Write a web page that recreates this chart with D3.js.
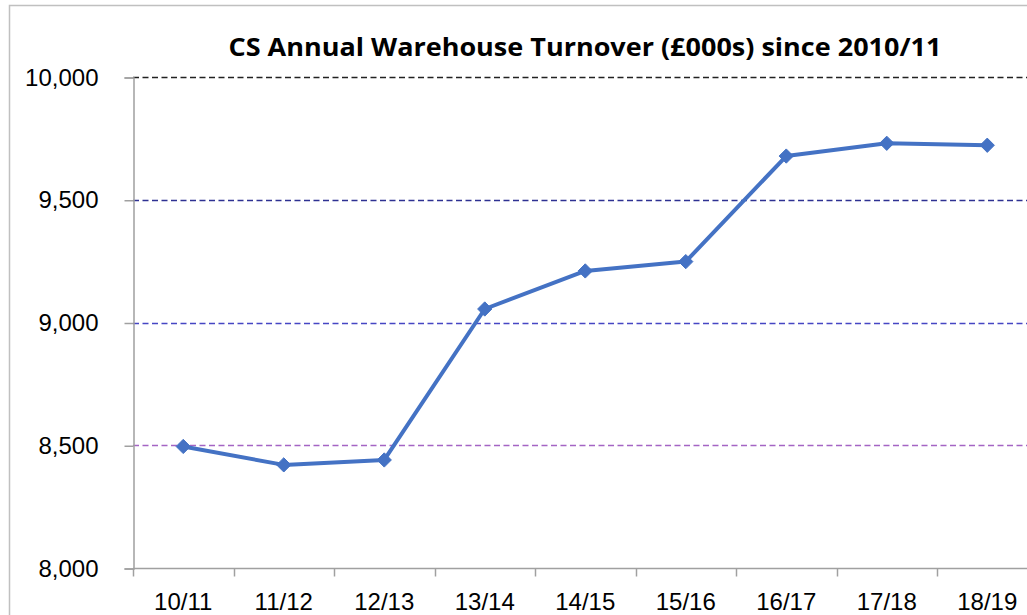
<!DOCTYPE html>
<html>
<head>
<meta charset="utf-8">
<script src="https://cdn.jsdelivr.net/npm/d3@7"></script>
<style>
  body { margin: 0; background: #fff; }
  svg { display: block; }
  .lbl { font-family: "Liberation Sans", Arial, sans-serif; }
  .ttl { font-family: "Open Sans", Lato, sans-serif; font-weight: 700; }
</style>
</head>
<body>
<div id="chart"></div>
<script>
// Data
const years = ["10/11", "11/12", "12/13", "13/14", "14/15", "15/16", "16/17", "17/18", "18/19"];
const turnover = [8495, 8420, 8440, 9055, 9210, 9248, 9678, 9730, 9722];
const yTicks = [8000, 8500, 9000, 9500, 10000];
const gridColours = ["none", "#a464c4", "#4646c4", "#2e3192", "#222222"];

const W = 1027, H = 615;
const margin = { top: 77, left: 133, bottom: 47 };
const plotRight = 1037.5;

const svg = d3.select("#chart").append("svg")
    .attr("width", W)
    .attr("height", H);

// chart area border (cut off on the right and bottom like the original)
svg.append("rect")
    .attr("x", 9.5).attr("y", 5.5)
    .attr("width", 1200).attr("height", 800)
    .attr("fill", "#fff")
    .attr("stroke", "#c0c0c0")
    .attr("stroke-width", 1.5);

const x = d3.scaleBand()
    .domain(years)
    .range([margin.left, plotRight])
    .padding(0);

const y = d3.scaleLinear()
    .domain([8000, 10000])
    .range([H - margin.bottom, margin.top]);

// dashed gridlines, each with its own colour
svg.append("g")
  .selectAll("line")
  .data(yTicks.slice(1))
  .join("line")
    .attr("x1", margin.left)
    .attr("x2", W)
    .attr("y1", d => Math.round(y(d)) + 0.5)
    .attr("y2", d => Math.round(y(d)) + 0.5)
    .attr("stroke", (d, i) => gridColours[i + 1])
    .attr("stroke-width", 1.3)
    .attr("stroke-dasharray", "6,3.5");

// Y axis
const yAxis = svg.append("g")
    .attr("transform", `translate(${margin.left + 0.5},0.5)`)
    .call(d3.axisLeft(y).tickValues(yTicks).tickSize(9).tickPadding(26).tickFormat(d3.format(",")));
yAxis.attr("font-family", null).attr("font-size", null);
yAxis.select(".domain").attr("stroke", "#a0a0a0").attr("stroke-width", 1.5);
yAxis.selectAll(".tick line").attr("stroke", "#a0a0a0").attr("stroke-width", 1.5);
yAxis.selectAll("text")
    .attr("class", "lbl")
    .style("font-size", "24px")
    .attr("fill", "#000");

// X axis: ticks sit on band boundaries
const xAxis = svg.append("g")
    .attr("transform", `translate(0,${Math.round(y(8000)) + 0.5})`);
xAxis.append("line")
    .attr("x1", margin.left).attr("x2", W)
    .attr("stroke", "#a0a0a0").attr("stroke-width", 1.5);
xAxis.selectAll(".tk")
  .data(years)
  .join("line")
    .attr("class", "tk")
    .attr("x1", d => Math.round(x(d)) + 0.5)
    .attr("x2", d => Math.round(x(d)) + 0.5)
    .attr("y1", 0).attr("y2", 8)
    .attr("stroke", "#a0a0a0").attr("stroke-width", 1.5);
xAxis.selectAll("text")
  .data(years)
  .join("text")
    .attr("class", "lbl")
    .attr("x", d => x(d) + x.bandwidth() / 2)
    .attr("y", 41)
    .attr("text-anchor", "middle")
    .style("font-size", "24px")
    .attr("fill", "#000")
    .text(d => d);

// the line
const pts = years.map((yr, i) => ({ yr, v: turnover[i] }));
const line = d3.line()
    .x(d => x(d.yr) + x.bandwidth() / 2)
    .y(d => y(d.v));

svg.append("path")
    .datum(pts)
    .attr("fill", "none")
    .attr("stroke", "#4472c4")
    .attr("stroke-width", 4)
    .attr("stroke-linejoin", "round")
    .attr("d", line);

svg.append("g")
  .selectAll("path")
  .data(pts)
  .join("path")
    .attr("transform", d => `translate(${x(d.yr) + x.bandwidth() / 2},${y(d.v)})`)
    .attr("d", d3.symbol(d3.symbolDiamond2, 130))
    .attr("fill", "#4472c4")
    .attr("stroke", "#4472c4")
    .attr("stroke-width", 1);

// title
svg.append("text")
    .attr("class", "ttl")
    .attr("x", 585)
    .attr("y", 56)
    .attr("text-anchor", "middle")
    .style("font-size", "25px")
    .attr("textLength", 713)
    .attr("lengthAdjust", "spacingAndGlyphs")
    .attr("fill", "#000")
    .text("CS Annual Warehouse Turnover (£000s) since 2010/11");
</script>
</body>
</html>
